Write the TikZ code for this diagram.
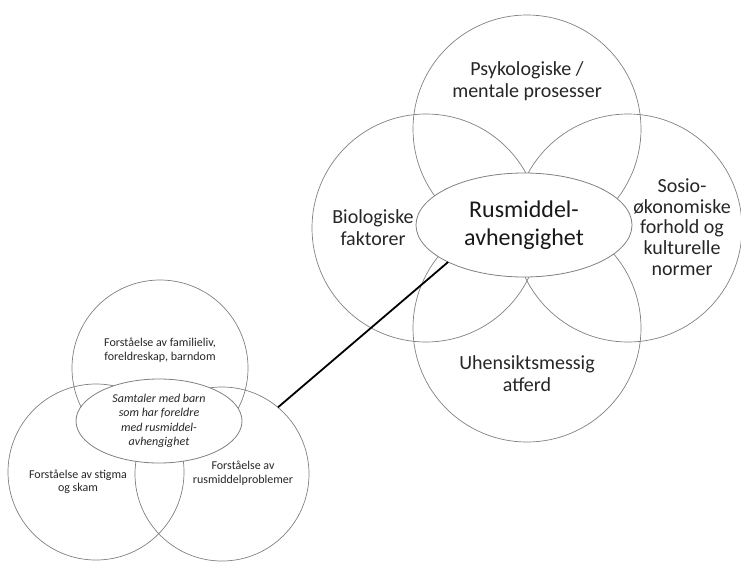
\documentclass[tikz,border=0pt]{standalone}
\usepackage{fontspec}
\setmainfont{Carlito}
\usetikzlibrary{shapes.geometric}
\begin{document}
\begin{tikzpicture}[x=1pt,y=-1pt,
  ring/.style={circle,draw=black!50,line width=0.7pt,inner sep=0pt,outer sep=0pt,minimum size=#1},
  oval/.style={ellipse,draw=black!50,line width=0.8pt,fill=white,inner sep=0pt,outer sep=0pt,align=center},
  bigtxt/.style={align=center,inner sep=0pt,font=\fontsize{20}{22}\selectfont,text=black!85},
  smalltxt/.style={align=center,inner sep=0pt,font=\fontsize{12}{13.5}\selectfont,text=black!85}]
\useasboundingbox (0,0) rectangle (741,563);
% right cluster circles
\node[ring=228pt] (psy) at (527,129) {};
\node[ring=228pt] (bio) at (426,228) {};
\node[ring=228pt] (sos) at (628,228) {};
\node[ring=228pt] (uhe) at (527,328) {};
% left cluster circles
\node[ring=176pt] (fam) at (160,368) {};
\node[ring=176pt] (sti) at (96,472) {};
\node[ring=174pt] (rpr) at (222,474) {};
% ellipses
\node[oval,minimum width=216pt,minimum height=104pt,font=\fontsize{24}{28}\selectfont,text=black!90] (rus) at (524,225) {Rusmiddel-\\avhengighet};
\node[oval,minimum width=166pt,minimum height=84pt,font=\itshape\fontsize{12}{14.5}\selectfont,text=black!85] (sam) at (159,421) {Samtaler med barn\\som har foreldre\\med rusmiddel-\\avhengighet};
% connector
\draw[line width=1.8pt,black] (rpr.50) -- (rus.206);
% labels right
\node[bigtxt] (tpsy) at (527,81) {Psykologiske /\\mentale prosesser};
\node[bigtxt] (tbio) at (373,228) {Biologiske\\faktorer};
\node[bigtxt,font=\fontsize{20}{20.8}\selectfont] (tsos) at (682,227) {Sosio-\\økonomiske\\forhold og\\kulturelle\\normer};
\node[bigtxt] (tuhe) at (527,374) {Uhensiktsmessig\\atferd};
% labels left
\node[smalltxt] (tfam) at (160,350) {Forståelse av familieliv,\\foreldreskap, barndom};
\node[smalltxt] (tsti) at (78,482) {Forståelse av stigma\\og skam};
\node[smalltxt] (trpr) at (243,473) {Forståelse av\\rusmiddelproblemer};
\end{tikzpicture}
\end{document}
